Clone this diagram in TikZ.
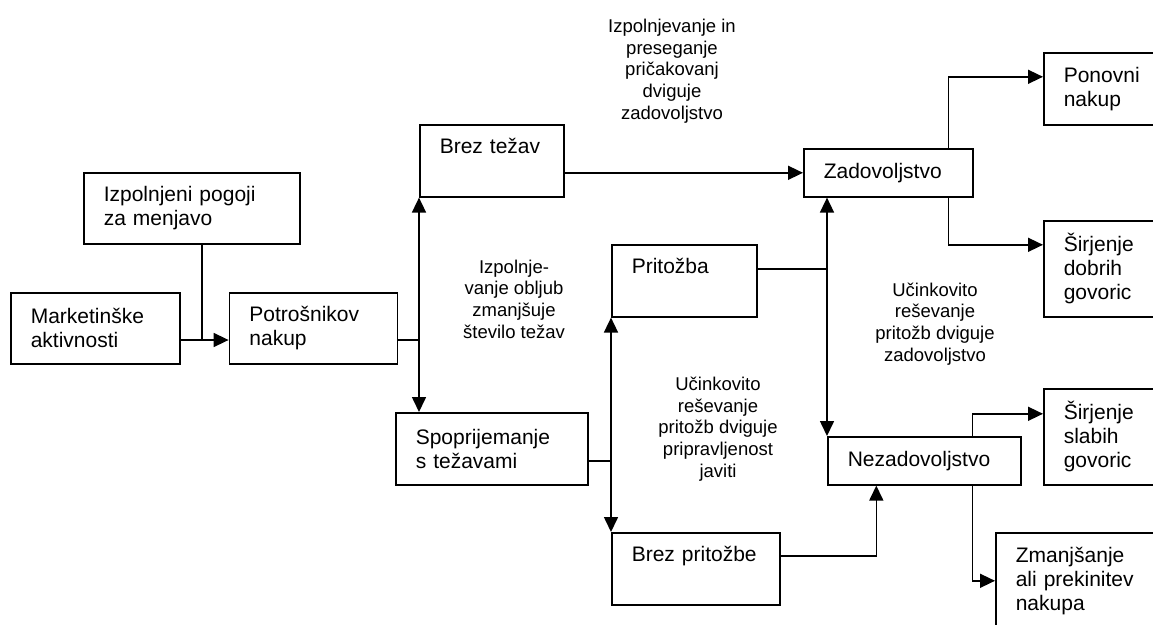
\documentclass[tikz,border=0pt]{standalone}
\usepackage{fontspec}
\setmainfont{Liberation Sans}
\usetikzlibrary{positioning, arrows.meta}

\tikzset{
	box/.style={draw, line width=1.6pt, anchor=north west, inner xsep=20pt, inner ysep=0pt,
		align=left, font=\fontsize{21}{24}\selectfont},
	topbox/.style={box, text height=29pt, text depth=43pt},
	note/.style={align=center, font=\fontsize{18.5}{21.7}\selectfont},
}

\begin{document}
\begin{tikzpicture}[x=1pt, y=-1pt, line width=1.6pt, >={Triangle[length=15pt, width=14pt]}]
		\useasboundingbox (0,0) rectangle (1153,624);
		\clip (0,0) rectangle (1153,624);

		\node[box, text width=129pt, minimum height=71pt] at (10,292)   (marketing) {Marketinške\\aktivnosti};
		\node[box, text width=176pt, minimum height=71pt] at (83,172)   (terms)     {Izpolnjeni pogoji\\za menjavo};
		\node[box, text width=128pt, minimum height=71pt, right=48pt of marketing] (purchase) {Potrošnikov\\nakup};
		\node[topbox, text width=104pt] at (419,124)                      (no problem) {Brez težav};
		\node[box, text width=152pt, minimum height=72pt] at (395,412)  (coping)    {Spoprijemanje\\s težavami};
		\node[topbox, text width=105pt] at (611,244)                      (complaint) {Pritožba};
		\node[topbox, text width=128pt] at (611,532)                      (no complaint) {Brez pritožbe};
		\node[box, text width=129pt, minimum height=48pt] at (803,148)  (satisfied) {Zadovoljstvo};
		\node[box, text width=153pt, minimum height=48pt] at (827,436)  (unsatisfied) {Nezadovoljstvo};
		\node[box, text width=90pt, minimum height=72pt] at (1043,52)   (repeat)    {Ponovni\\nakup};
		\node[box, text width=90pt, minimum height=96pt] at (1043,220)  (good wom)  {Širjenje\\dobrih\\govoric};
		\node[box, text width=90pt, minimum height=96pt] at (1043,388)  (bad wom)   {Širjenje\\slabih\\govoric};
		\node[box, text width=140pt, minimum height=96pt] at (995,532)  (stop)      {Zmanjšanje\\ali prekinitev\\nakupa};

		\node[note] at (672,71)  (note top)    {Izpolnjevanje in\\preseganje\\pričakovanj\\dviguje\\zadovoljstvo};
		\node[note] at (514,299) (note left)   {Izpolnje-\\vanje obljub\\zmanjšuje\\število težav};
		\node[note] at (718,429) (note middle) {Učinkovito\\reševanje\\pritožb dviguje\\pripravljenost\\javiti};
		\node[note] at (935,324) (note right)  {Učinkovito\\reševanje\\pritožb dviguje\\zadovoljstvo};

		\coordinate (join) at (202,340);
		\draw[->] (marketing.east |- join) -- (purchase.west |- join);
		\draw (terms.south -| join) -- (join);
		\draw (purchase.east |- join) -- (no problem.south west |- join);
		\draw[<->] (no problem.south west) -- (no problem.south west |- coping.north);
		\draw[->] (no problem.east |- satisfied.west) -- (satisfied.west);
		\draw ([yshift=-12pt]coping.east) -- ([yshift=-12pt]coping.east -| complaint.west);
		\draw[<->] (complaint.south west) -- (no complaint.north west);
		\draw ([yshift=12pt]complaint.east) -- ([yshift=12pt]complaint.east -| unsatisfied.west);
		\draw[<->] (satisfied.south -| unsatisfied.north west) -- (unsatisfied.north west);
		\draw[->] ([yshift=13pt]no complaint.east) -| ([xshift=-48pt]unsatisfied.south);
		\draw[->] ([xshift=60pt]satisfied.north) |- ([yshift=12pt]repeat.west);
		\draw[->] ([xshift=60pt]satisfied.south) |- ([yshift=24pt]good wom.west);
		\draw[->] ([xshift=48pt]unsatisfied.north) |- ([yshift=23pt]bad wom.west);
		\draw[->] ([xshift=48pt]unsatisfied.south) |- (stop.west);
	\end{tikzpicture}
\end{document}
